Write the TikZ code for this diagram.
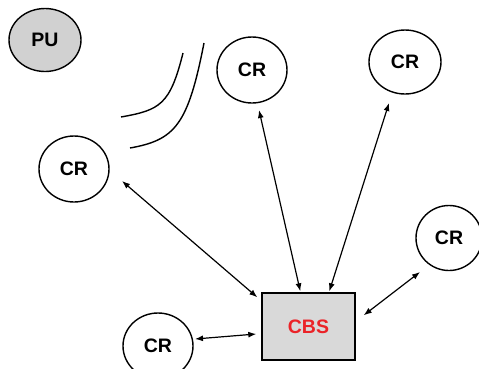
\documentclass[tikz,border=0pt]{standalone}
\usepackage{fontspec}
\setmainfont{Liberation Sans}
\usepackage{tikz}
\usetikzlibrary{shapes.geometric,arrows.meta}
\definecolor{cbsred}{RGB}{235,35,40}

\begin{document}
\begin{tikzpicture}[x=1pt,y=-1pt,
    radio/.style={ellipse,draw,line width=1.4pt,inner sep=0pt,minimum width=70pt,minimum height=66pt,font=\bfseries\fontsize{19.5}{22}\selectfont},
    link/.style={line width=1.2pt,{Latex[length=8pt,width=6pt]}-{Latex[length=8pt,width=6pt]}}]
      \useasboundingbox (0,0) rectangle (479,368);
      \node[radio,fill=black!18,minimum width=72pt,minimum height=63pt](pu) at (45,40){PU};
      \node[radio](crL) at (74,169){CR};
      \node[radio](crT) at (252,70){CR};
      \node[radio,minimum width=72pt,minimum height=64pt](crTR) at (405,62){CR};
      \node[radio,minimum width=66pt,minimum height=65pt](crR) at (449,238){CR};
      \node[radio](crB) at (158,346){CR};
      \node[draw,line width=1.4pt,fill=black!15,minimum width=93pt,minimum height=67pt,
        text=cbsred,font=\bfseries\fontsize{19.5}{22}\selectfont](cbs) at (308.5,326.5){CBS};
      % links to the base station
      \draw[link] ([shift={(48,12)}]crL.center) -- ([shift={(-4,5)}]cbs.north west);
      \draw[link] ([shift={(7,40)}]crT.center) -- ([shift={(39,-1)}]cbs.north west);
      \draw[link] ([shift={(-16,41)}]crTR.center) -- ([shift={(68,-1)}]cbs.north west);
      \draw[link] ([shift={(-29,34)}]crR.center) -- ([shift={(8,23)}]cbs.north east);
      \draw[link] ([shift={(37,-7)}]crB.center) -- ([shift={(-5,7.5)}]cbs.west);
      % wall
      \draw[line width=1.4pt] (121,117) .. controls (160,110) and (170,105) .. (183,53);
      \draw[line width=1.4pt] (130,148) .. controls (175,140) and (188,125) .. (204,43);
    \end{tikzpicture}
\end{document}
